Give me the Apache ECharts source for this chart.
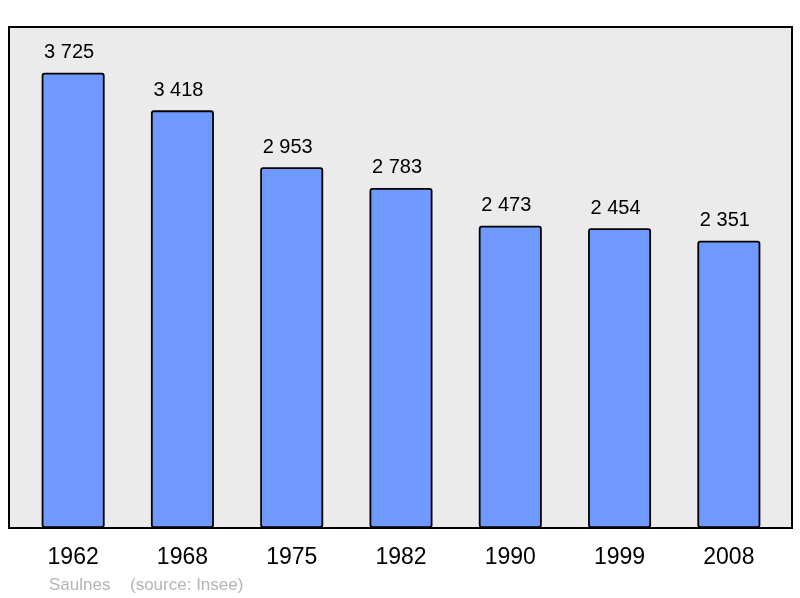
<!DOCTYPE html>
<html><head><meta charset="utf-8">
<script src="https://cdn.jsdelivr.net/npm/echarts@6/dist/echarts.min.js"></script>
<style>html,body{margin:0;padding:0;background:#fff}#c{width:800px;height:598px}</style>
</head><body><div id="c"></div>
<script>
const years = ['1962','1968','1975','1982','1990','1999','2008'];
const population = [3725, 3418, 2953, 2783, 2473, 2454, 2351];
const commune = 'Saulnes';
const sourceText = '(source: Insee)';

const fmt = v => String(v).replace(/\B(?=(\d{3})+(?!\d))/g, ' ');
const chart = echarts.init(document.getElementById('c'), null, {renderer:'canvas'});
chart.setOption({
  animation: false,
  textStyle: {fontFamily: 'Liberation Sans, Arial, sans-serif'},
  grid: [
    {left: 9, top: 27, width: 783, height: 501, show: true, backgroundColor: '#ebebeb', borderColor: '#000', borderWidth: 2, containLabel: false},
    {left: 18.5, top: 27, width: 765, height: 501, containLabel: false}
  ],
  xAxis: [
    {gridIndex: 0, type: 'category', data: years, show: false},
    {gridIndex: 1, type: 'category', data: years, boundaryGap: true,
     axisLine: {show: false}, axisTick: {show: false},
     axisLabel: {color: '#000', fontSize: 23, margin: 18, fontFamily: 'Liberation Sans, Arial, sans-serif'}}
  ],
  yAxis: [
    {gridIndex: 0, type: 'value', show: false, min: 0, max: 4100},
    {gridIndex: 1, type: 'value', show: false, min: 0, max: 4100, splitLine: {show: false}}
  ],
  series: [{
    type: 'bar', xAxisIndex: 1, yAxisIndex: 1, data: population, barWidth: 63,
    itemStyle: {color: '#7099ff', borderColor: '#000', borderWidth: 1.8, borderRadius: 2},
    label: {show: true, position: 'top', distance: 10, offset: [-4, 0], color: '#000', fontSize: 20,
      fontFamily: 'Liberation Sans, Arial, sans-serif', formatter: p => fmt(p.value)}
  }],
  graphic: [
    {type: 'text', left: 49, top: 577, style: {text: commune, fill: '#b4b4b4', fontSize: 17, fontFamily: 'Liberation Sans, Arial, sans-serif'}},
    {type: 'text', left: 130, top: 577, style: {text: sourceText, fill: '#b4b4b4', fontSize: 17, fontFamily: 'Liberation Sans, Arial, sans-serif'}}
  ]
});
</script></body></html>
